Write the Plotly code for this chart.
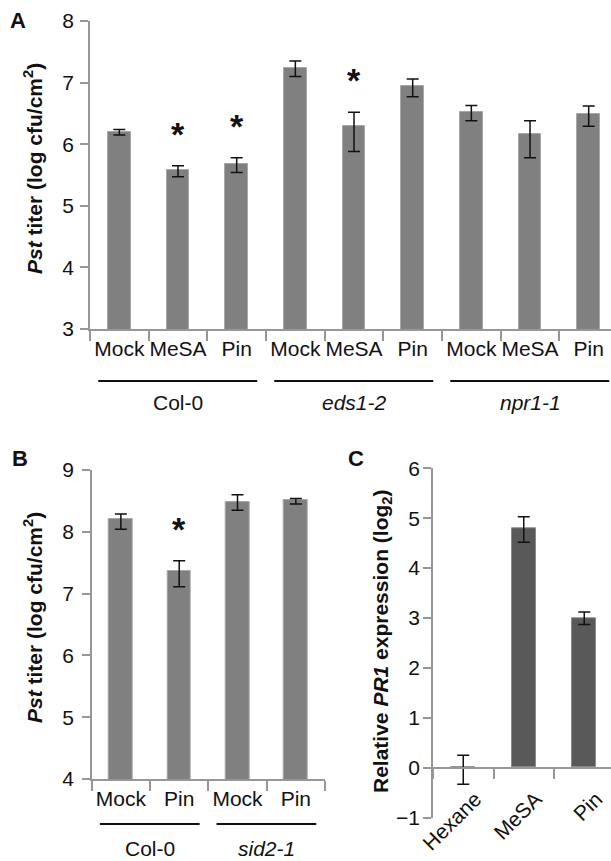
import plotly.graph_objects as go

W, H = 611, 861
FONT = "Arial, Liberation Sans, sans-serif"
AXC = "#979797"
BAR_A = "#808080"
BAR_C = "#595959"

# ---------------- data ----------------
# Panel A
a_groups = ["Col-0", "eds1-2", "npr1-1"]
a_group_italic = [False, True, True]
a_treat = ["Mock", "MeSA", "Pin"]
a_vals = [6.20, 5.58, 5.68, 7.23, 6.30, 6.94, 6.53, 6.16, 6.49]
a_plus = [0.04, 0.07, 0.10, 0.12, 0.22, 0.12, 0.10, 0.22, 0.13]
a_minus = [0.05, 0.11, 0.14, 0.13, 0.42, 0.17, 0.15, 0.38, 0.20]
a_sig = [False, True, True, False, True, False, False, False, False]

# Panel B
b_groups = ["Col-0", "sid2-1"]
b_group_italic = [False, True]
b_treat = ["Mock", "Pin"]
b_vals = [8.20, 7.37, 8.49, 8.51]
b_plus = [0.09, 0.16, 0.11, 0.03]
b_minus = [0.16, 0.26, 0.14, 0.06]
b_sig = [False, True, False, False]

# Panel C
c_cats = ["Hexane", "MeSA", "Pin"]
c_vals = [0.00, 4.80, 3.00]
c_plus = [0.25, 0.23, 0.12]
c_minus = [0.33, 0.28, 0.13]

title_ab = "<b><i>Pst</i> titer (log cfu/cm<sup>2</sup>)</b>"
title_c = "<b>Relative <i>PR1</i> expression (log<sub>2</sub>)</b>"


def px_x(p):
    return p / W


def px_y(p):
    return 1 - p / H


def keys(groups, treats):
    return [f"{g}|{t}" for g in groups for t in treats]


a_keys = keys(a_groups, a_treat)
b_keys = keys(b_groups, b_treat)
a_labels = [t for g in a_groups for t in a_treat]
b_labels = [t for g in b_groups for t in b_treat]

fig = go.Figure()


def err(plus, minus):
    return dict(type="data", symmetric=False, array=plus, arrayminus=minus,
                color="#111111", thickness=1.5, width=6)


fig.add_trace(go.Bar(x=a_keys, y=a_vals, xaxis="x", yaxis="y", width=0.39,
                     marker=dict(color=BAR_A, line=dict(color="#a8a8a8", width=1)),
                     error_y=err(a_plus, a_minus), showlegend=False))
fig.add_trace(go.Bar(x=b_keys, y=b_vals, xaxis="x2", yaxis="y2", width=0.41,
                     marker=dict(color=BAR_A, line=dict(color="#a8a8a8", width=1)),
                     error_y=err(b_plus, b_minus), showlegend=False))
fig.add_trace(go.Bar(x=c_cats, y=c_vals, xaxis="x3", yaxis="y3", width=0.40,
                     marker=dict(color=BAR_C, line=dict(color="#8a8a8a", width=1)),
                     error_y=err(c_plus, c_minus), showlegend=False))

# invisible carriers so the label-only y axes get drawn
for xk, yv, xa, ya in [(a_keys, a_vals, "x", "y4"), (b_keys, b_vals, "x2", "y5"),
                       (c_cats, c_vals, "x3", "y6")]:
    fig.add_trace(go.Scatter(x=xk, y=yv, xaxis=xa, yaxis=ya, mode="markers",
                             marker=dict(opacity=0), hoverinfo="skip", showlegend=False))

tickfont = dict(family=FONT, size=21, color="#111111")
titlefont = dict(family=FONT, size=21, color="#111111")

xcommon = dict(type="category", tickmode="array", tickson="boundaries",
               ticks="outside", ticklen=10, tickwidth=1.5, tickcolor=AXC,
               showline=True, linecolor=AXC, linewidth=1.5, showgrid=False,
               zeroline=False, tickfont=tickfont, fixedrange=True,
               automargin=False, tickangle=0)
ycommon = dict(ticks="outside", ticklen=8, tickwidth=1.5, tickcolor=AXC,
               showline=True, linecolor=AXC, linewidth=1.5, showgrid=False,
               zeroline=False, showticklabels=False, dtick=1, tickmode="linear",
               fixedrange=True, automargin=False)
# label-only axes (placed a little left of the drawn axis, like the original)
ylab = dict(ticks="", showline=False, showgrid=False, zeroline=False,
            tickfont=tickfont, dtick=1, tickmode="linear", fixedrange=True,
            automargin=False, anchor="free", side="left")

# domains
ax_A = dict(x=[px_x(90), 1.0], y=[px_y(329), px_y(21)])
ax_B = dict(x=[px_x(91.7), px_x(325)], y=[px_y(779), px_y(470)])
ax_C = dict(x=[px_x(433), 1.0], y=[px_y(817.7), px_y(468.3)])

c_ymin, c_ymax = -1, 6
c_zero_pos = ax_C["y"][0] + (0 - c_ymin) / (c_ymax - c_ymin) * (ax_C["y"][1] - ax_C["y"][0])

fig.update_layout(
    template="none",
    width=W, height=H, margin=dict(l=0, r=0, t=0, b=0, autoexpand=False),
    paper_bgcolor="white", plot_bgcolor="white", bargap=0,
    font=dict(family=FONT, color="#111111"),
    xaxis=dict(xcommon, domain=ax_A["x"], anchor="y", tickvals=a_keys, ticktext=a_labels,
               range=[-0.5, -0.5 + (611 - 90) / 58.67]),
    yaxis=dict(ycommon, domain=ax_A["y"], anchor="x", range=[3, 8], tick0=3),
    yaxis4=dict(ylab, overlaying="y", position=px_x(74), range=[3, 8], tick0=3),
    xaxis2=dict(xcommon, domain=ax_B["x"], anchor="y2", tickvals=b_keys, ticktext=b_labels,
                range=[-0.5, 3.5]),
    yaxis2=dict(ycommon, domain=ax_B["y"], anchor="x2", range=[4, 9], tick0=4),
    yaxis5=dict(ylab, overlaying="y2", position=px_x(74), range=[4, 9], tick0=4),
    xaxis3=dict(xcommon, domain=ax_C["x"], anchor="free", position=c_zero_pos,
                tickangle=-45, range=[-0.5, -0.5 + (611 - 433) / 60.5],
                tickvals=c_cats, ticktext=c_cats, ticklabelstandoff=10,
                ticklabelshift=12),
    yaxis3=dict(ycommon, domain=ax_C["y"], anchor="x3", range=[c_ymin, c_ymax], tick0=-1),
    yaxis6=dict(ylab, overlaying="y3", position=px_x(420), range=[c_ymin, c_ymax], tick0=-1),
)

annotations = []
shapes = []

# axis titles (rotated)
for txt, tx, ty in [(title_ab, 33, 169), (title_ab, 33, 618), (title_c, 382, 642)]:
    annotations.append(dict(x=px_x(tx), y=px_y(ty), xref="paper", yref="paper",
                            text=txt, textangle=-90, showarrow=False,
                            xanchor="center", yanchor="middle", font=titlefont))

# significance asterisks
for xa, ya, ks, vals, plus, sig in [("x", "y", a_keys, a_vals, a_plus, a_sig),
                                     ("x2", "y2", b_keys, b_vals, b_plus, b_sig)]:
    for k, v, p, s in zip(ks, vals, plus, sig):
        if s:
            annotations.append(dict(x=k, y=v + p + 0.57, xref=xa, yref=ya, text="<b>*</b>",
                                    showarrow=False, yanchor="middle", yshift=-3,
                                    font=dict(family=FONT, size=34, color="#111111")))


# group lines and labels
def groups_deco(groups, italic, n_per, xa, line_y, label_y):
    for gi, (g, it) in enumerate(zip(groups, italic)):
        i0 = gi * n_per
        i1 = i0 + n_per - 1
        shapes.append(dict(type="line", xref=xa, yref="paper",
                           x0=i0 - 0.5 + 0.14, x1=i1 + 0.5 - 0.15,
                           y0=px_y(line_y), y1=px_y(line_y),
                           line=dict(color="#111111", width=2)))
        txt = f"<i>{g}</i>" if it else g
        annotations.append(dict(x=(i0 + i1) / 2, y=px_y(label_y), xref=xa, yref="paper",
                                text=txt, showarrow=False, yanchor="middle",
                                font=dict(family=FONT, size=21, color="#111111")))


groups_deco(a_groups, a_group_italic, len(a_treat), "x", 381, 403)
groups_deco(b_groups, b_group_italic, len(b_treat), "x2", 824, 848)

# panel letters
for letter, lx, ly in [("A", 8, 20), ("B", 10, 459), ("C", 346, 459)]:
    annotations.append(dict(x=px_x(lx), y=px_y(ly), xref="paper", yref="paper",
                            text=f"<b>{letter}</b>", showarrow=False,
                            xanchor="left", yanchor="middle",
                            font=dict(family=FONT, size=22, color="#111111")))

fig.update_layout(annotations=annotations, shapes=shapes)
fig.write_html("out.html")
